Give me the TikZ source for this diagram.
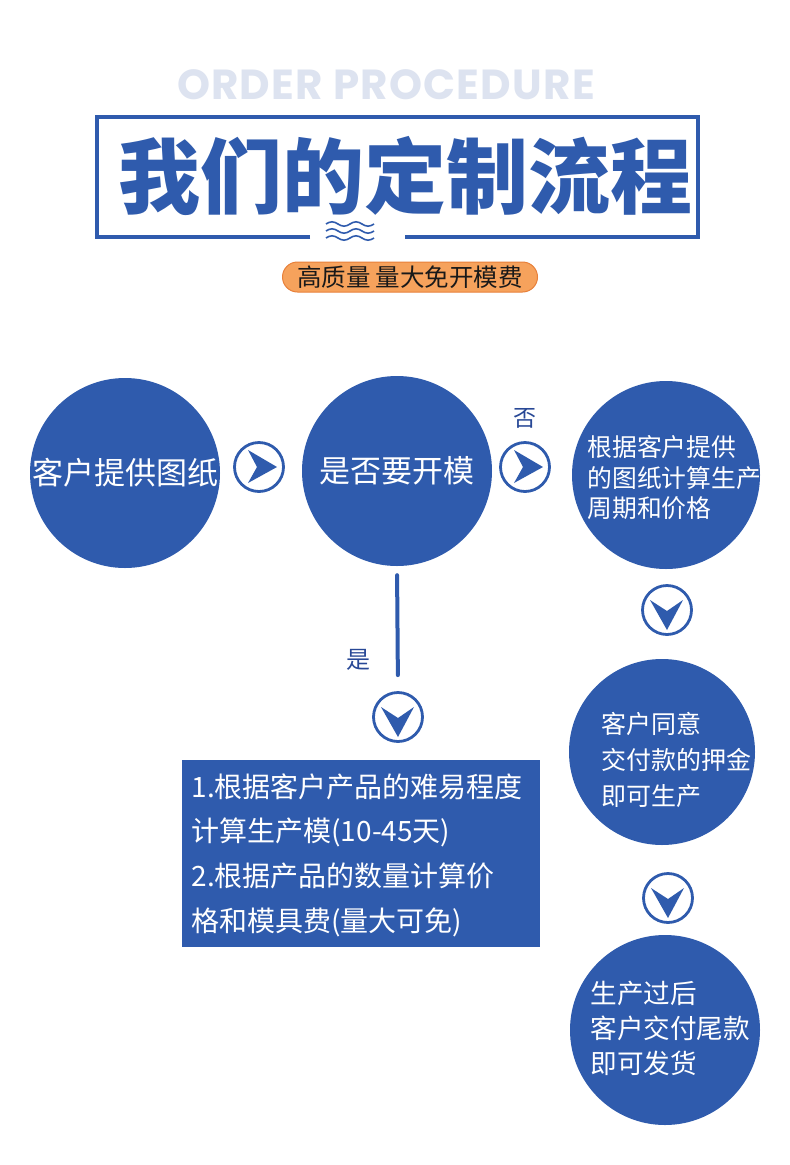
\documentclass[tikz,border=0pt]{standalone}
\usepackage{fontspec}
\newfontfamily\cjk{Noto Sans CJK SC}
\newfontfamily\pop{Poppins}[LetterSpace=3]
\definecolor{mblue}{RGB}{47,91,173}
\definecolor{dblue}{RGB}{40,72,150}
\definecolor{pale}{RGB}{221,227,240}
\definecolor{ofill}{RGB}{246,162,92}
\definecolor{oedge}{RGB}{232,128,58}
\tikzset{
  bigc/.style={circle,fill=mblue,minimum size=#1,inner sep=0pt},
  arrc/.style={circle,draw=mblue,line width=2.8pt,minimum size=49pt,inner sep=0pt},
  ctext/.style={text=white,font=\cjk\fontsize{31}{36}\selectfont},
  rarr/.pic={\fill[mblue] (-11,-17) -- (18,0) -- (-11,16) -- (-2,0) -- cycle;},
  darr/.pic={\fill[mblue] (-17,-10) -- (0,1) -- (16,-10) -- (0,20) -- cycle;},
  wave/.style={mblue,line width=1.6pt},
}
\begin{document}
\begin{tikzpicture}[x=1pt,y=-1pt]
\fill[white] (0,0) rectangle (790,1165);
\useasboundingbox (0,0) rectangle (790,1165);
% header
\node[text=pale,font=\pop\bfseries\fontsize{42}{48}\selectfont] (ord) at (386,85) {ORDER PROCEDURE};
\draw[mblue,line width=4pt] (310,237) -- (97,237) -- (97,117) -- (698,117) -- (698,237) -- (405,237);
\node[text=mblue,font=\cjk\bfseries\fontsize{82}{86}\selectfont] (title) at (405,176) {我们的定制流程};
\foreach \yy in {224,231,238}{
  \draw[wave] (326,\yy) sin (332,\yy-2.2) cos (338,\yy) sin (344,\yy+2.2) cos (350,\yy) sin (356,\yy-2.2) cos (362,\yy) sin (368,\yy+2.2) cos (374,\yy);
}
\node[rounded corners=15pt,fill=ofill,draw=oedge,line width=1pt,minimum width=255pt,minimum height=30pt,inner sep=0pt,text=black!90,font=\cjk\fontsize{24.5}{26}\selectfont] (pill) at (410,277) {高质量 量大免开模费};
% circles
\node[bigc=190pt,ctext] (c1) at (125,473) {客户提供图纸};
\node[bigc=190pt,ctext] (c2) at (397,471) {是否要开模};
\node[bigc=188pt] (c3) at (666,475) {};
\node[bigc=186pt] (c4) at (662,752) {};
\node[bigc=190pt] (c5) at (665,1030) {};
\node[anchor=west,align=left,text=white,font=\cjk\fontsize{24.8}{30.5}\selectfont] (t3) at (584,478) {根据客户提供\\的图纸计算生产\\周期和价格};
\node[anchor=west,align=left,text=white,font=\cjk\fontsize{25}{36}\selectfont] (t4) at (598,760) {客户同意\\交付款的押金\\即可生产};
\node[anchor=west,align=left,text=white,font=\cjk\fontsize{26.6}{35}\selectfont] (t5) at (587,1028) {生产过后\\客户交付尾款\\即可发货};
% arrow circles
\node[arrc] (a1) at (259,467) {};
\node[arrc] (a2) at (525,467) {};
\node[arrc] (a3) at (667,610) {};
\node[arrc] (a4) at (398,717) {};
\node[arrc] (a5) at (668,898) {};
\pic at (a1.center) {rarr};
\pic at (a2.center) {rarr};
\pic at (a3.center) {darr};
\pic at (a4.center) {darr};
\pic at (a5.center) {darr};
\draw[mblue,line width=4pt,line cap=round,shorten <=9pt,shorten >=16pt] (c2.south) -- (a4.north);
\node[text=dblue,font=\cjk\fontsize{23}{26}\selectfont] (no) at (525,418) {否};
\node[text=dblue,font=\cjk\fontsize{24}{26}\selectfont] (yes) at (358,660) {是};
% rectangle
\node[fill=mblue,minimum width=358pt,minimum height=187pt,inner sep=0pt] (box) at (361,853.5) {};
\node[anchor=west,align=left,text=white,font=\cjk\fontsize{28}{44.7}\selectfont] (boxt) at (188,855) {1.根据客户产品的难易程度\\计算生产模(10-45天)\\2.根据产品的数量计算价\\格和模具费(量大可免)};
\end{tikzpicture}
\end{document}
